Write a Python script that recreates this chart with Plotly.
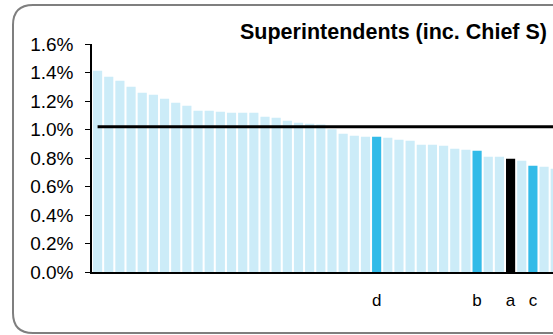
import plotly.graph_objects as go

# ---- data ----
categories = list(range(42))
values_pct = [1.413, 1.371, 1.342, 1.300, 1.258, 1.244, 1.216, 1.188, 1.167, 1.132,
              1.132, 1.125, 1.118, 1.118, 1.118, 1.090, 1.083, 1.062, 1.048, 1.041,
              1.035, 1.001, 0.971, 0.956, 0.949, 0.949, 0.942, 0.928, 0.921, 0.893,
              0.893, 0.886, 0.865, 0.858, 0.851, 0.809, 0.809, 0.795, 0.781, 0.746,
              0.739, 0.725]
highlight_idx = [25, 34, 37, 39]
highlight_lbl = ["d", "b", "a", "c"]
average_pct = 1.02
y_ticks = [0.0, 0.2, 0.4, 0.6, 0.8, 1.0, 1.2, 1.4, 1.6]
title_text = "Superintendents (inc. Chief S)"

# ---- styling ----
LIGHT = "#CCECF8"
BRIGHT = "#33BBE8"
colors = [LIGHT] * len(categories)
for i, lbl in zip(highlight_idx, highlight_lbl):
    colors[i] = "#000000" if lbl == "a" else BRIGHT

values = [v / 100 for v in values_pct]

W, H = 553, 335
L, R, T, B = 92, 0, 44, 63
pw, ph = W - L - R, H - T - B

fig = go.Figure()
fig.add_trace(go.Bar(x=categories, y=values, marker=dict(color=colors, line=dict(width=0)),
                     showlegend=False, hoverinfo="skip"))
fig.add_trace(go.Scatter(x=categories, y=[average_pct / 100] * len(categories), mode="lines",
                         line=dict(color="black", width=3), showlegend=False, hoverinfo="skip"))

def px_x(p):
    return (p - L) / pw

def px_y(p):
    return (H - B - p) / ph

# rounded border
x0, x1, y0, y1, r = 13, 600, 5, 333, 20
path = (f"M {px_x(x0)},{px_y(y0 + r)} "
        f"Q {px_x(x0)},{px_y(y0)} {px_x(x0 + r)},{px_y(y0)} "
        f"L {px_x(x1 - r)},{px_y(y0)} "
        f"Q {px_x(x1)},{px_y(y0)} {px_x(x1)},{px_y(y0 + r)} "
        f"L {px_x(x1)},{px_y(y1 - r)} "
        f"Q {px_x(x1)},{px_y(y1)} {px_x(x1 - r)},{px_y(y1)} "
        f"L {px_x(x0 + r)},{px_y(y1)} "
        f"Q {px_x(x0)},{px_y(y1)} {px_x(x0)},{px_y(y1 - r)} Z")
fig.add_shape(type="path", path=path, xref="paper", yref="paper",
              line=dict(color="#7F7F7F", width=2), layer="below")

fig.add_annotation(text=f"<b>{title_text}</b>", xref="paper", yref="paper",
                   x=px_x(549), y=px_y(32), xanchor="right", yanchor="middle",
                   showarrow=False, font=dict(family="Arial", size=21.5, color="black"))

fig.update_layout(
    width=W, height=H,
    margin=dict(l=L, r=R, t=T, b=B, pad=0),
    plot_bgcolor="white", paper_bgcolor="white",
    bargap=0.18,
    font=dict(family="Arial", size=18, color="black"),
    xaxis=dict(range=[-0.5, 40.8], showgrid=False, zeroline=False,
               showline=True, linecolor="black", linewidth=1.5,
               tickmode="array", tickvals=highlight_idx, ticktext=highlight_lbl,
               ticks="", ticklabelstandoff=12, tickfont=dict(size=17)),
    yaxis=dict(range=[0, 0.016], showgrid=False, zeroline=False,
               showline=True, linecolor="black", linewidth=1.5,
               tickmode="array", tickvals=[v / 100 for v in y_ticks],
               tickformat=".1%", ticks="outside", ticklen=5, tickcolor="black",
               ticklabelstandoff=8, tickfont=dict(size=19)),
)

fig.write_html("out.html", config={"displayModeBar": False},
               post_script="document.body.style.margin='0';document.body.style.overflow='hidden';")
